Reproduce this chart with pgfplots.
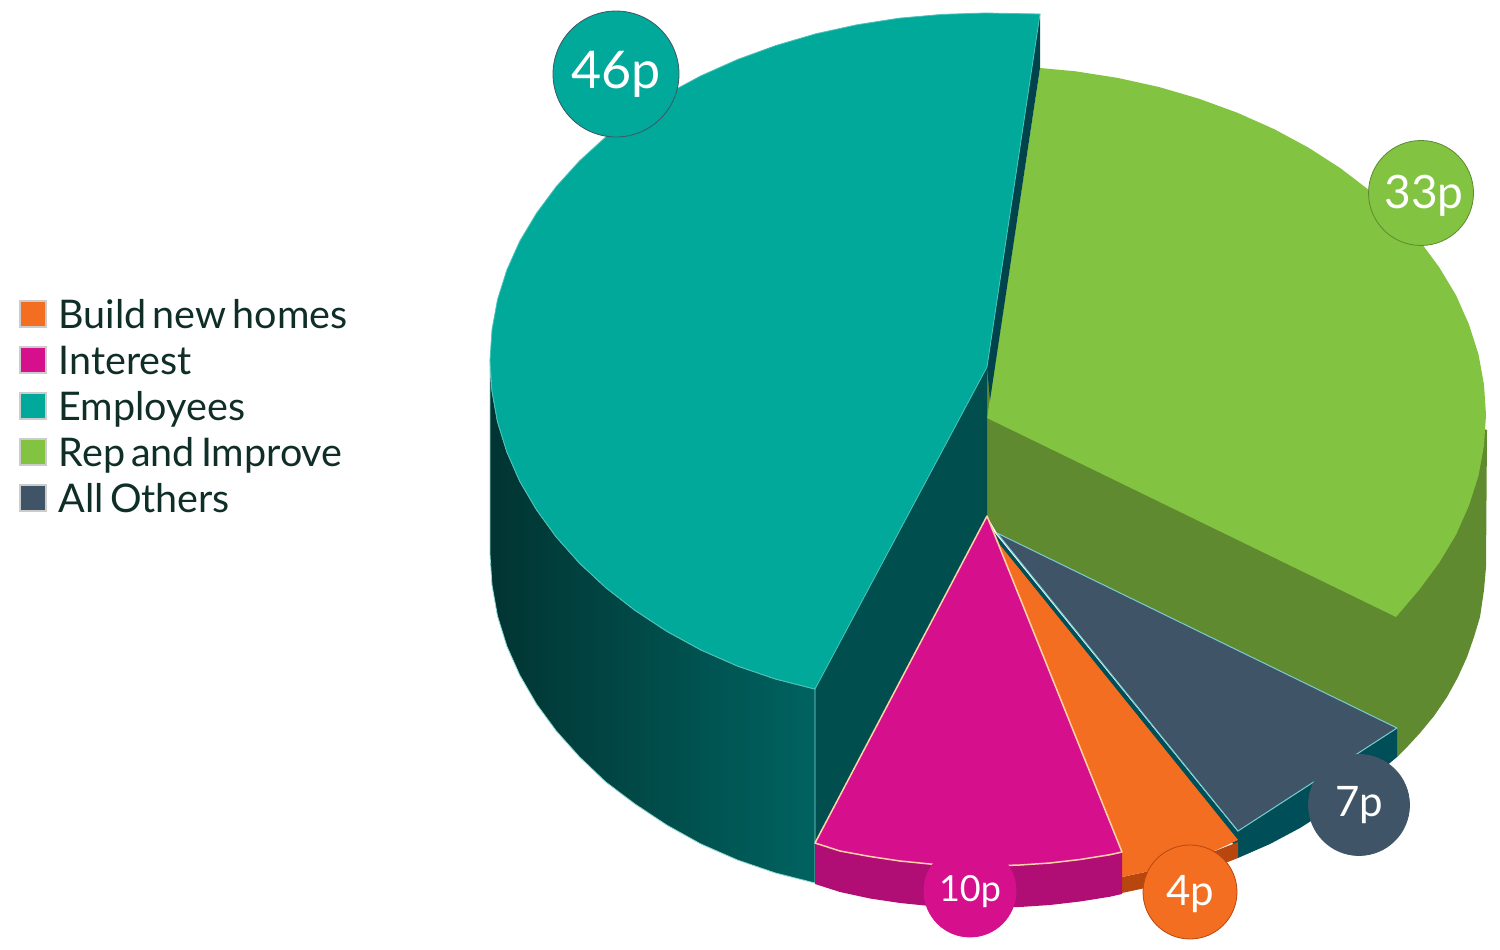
\documentclass[border=0pt]{standalone}
\usepackage{pgfplots}
\pgfplotsset{compat=1.18}
\usepackage{fontspec}
\setmainfont{Lato}[WordSpace=0.6]
\definecolor{cTeal}{HTML}{00A99A}
\definecolor{cTealIn}{HTML}{004F4E}
\definecolor{cTealL}{HTML}{013432}
\definecolor{cTealR}{HTML}{006360}
\definecolor{cGreen}{HTML}{82C341}
\definecolor{cGreenD}{HTML}{5F8A30}
\definecolor{cNavy}{HTML}{3F5567}
\definecolor{cNavyD}{HTML}{004F58}
\definecolor{cMag}{HTML}{D6108C}
\definecolor{cMagD}{HTML}{B00E75}
\definecolor{cOr}{HTML}{F36E21}
\definecolor{cOrD}{HTML}{B8470F}
\definecolor{cText}{HTML}{0F2E28}
\pgfplotsset{
  poly/.style={mark=none,forget plot,line join=round},
  badge/.style n args={3}{only marks,forget plot,mark=*,mark size=#1pt,
    mark options={fill=#2,draw=#3,line width=0.8pt},
    point meta=explicit symbolic,nodes near coords,
    every node near coord/.style={anchor=center,text=white}},
}
\begin{document}
\begin{tikzpicture}
\useasboundingbox (0,0) rectangle (1500pt,950pt);
\begin{axis}[
  at={(0,0)},anchor=south west,
  scale only axis,width=1500pt,height=950pt,
  xmin=0,xmax=1500,ymin=0,ymax=950,y dir=reverse,
  hide axis,clip=false,
  legend style={at={(axis cs:19,300)},anchor=north west,draw=none,fill=none,
    font=\fontsize{39.5}{40}\selectfont\color{cText},cells={anchor=west},
    row sep=8pt,column sep=12pt,inner sep=0pt,
    nodes={inner sep=0pt,text height=28pt,text depth=10pt}},
  legend image code/.code={\draw[#1] (0pt,-8pt) rectangle (26pt,18pt);},
]
% green wall and top
\addplot[poly,fill=cGreenD,draw=none] coordinates {(987,367) (987,516) (997,533) (1397,728) (1397,757) (1408,746) (1420,733) (1434,716) (1447,697) (1458,677) (1467,657) (1474,637) (1480,617) (1484,590) (1486,567) (1487,430) (1400,400)} --cycle;
\addplot[poly,fill=cGreen,draw=none] coordinates {(987,418) (1040,68) (1075.5,71.3) (1117.7,77.9) (1159,87) (1199.2,98.8) (1237.5,112.8) (1274.3,129.2) (1308.6,147.7) (1340.4,168.2) (1369.7,190.6) (1396,214.8) (1419.4,240.5) (1439.3,267.4) (1456.2,295.6) (1469,324.6) (1478.5,354.4) (1484,384.6) (1486,415) (1484,445.4) (1478.5,475.6) (1469,505.4) (1456.2,534.4) (1439.3,562.6) (1419.4,589.5) (1396,617)} --cycle;
% dark sliver behind the teal piece
\addplot[poly,fill=cNavyD!85!black,draw=none] coordinates {(1040,14) (1040,68) (990,400) (987,367)} --cycle;
% teal wall, outer side, top
\addplot[poly,fill=cTealIn,draw=none] coordinates {(987,367) (815,689) (815,842) (987,516)} --cycle;
\addplot[poly,left color=cTealL,right color=cTealR,draw=cTeal!45!white,line width=0.8pt] coordinates {(490,360) (492,390.9) (497.5,421.6) (506.8,451.7) (519.7,481.1) (536.5,509.7) (556.3,537) (579.6,563.2) (605.8,587.6) (635,610.3) (666.7,631.2) (700.9,649.9) (737.5,666) (775.6,679) (815,689) (815,883) (775.6,873) (737.5,860) (700.9,844) (666.7,825) (635,804) (605.8,782) (579.6,757) (556.3,731) (536.5,704) (519.7,675) (506.8,646) (497.5,616) (492,585) (490,554)} --cycle;
\addplot[poly,fill=cTeal,draw=cTeal!70!white,line width=0.8pt] coordinates {(1040,14) (985,13) (941.9,14.4) (898.9,18.2) (856.8,24.8) (815.7,33.8) (775.6,45.6) (737.5,59.5) (700.9,75.8) (666.7,94.2) (635,114.7) (605.8,136.9) (579.6,160.8) (556.3,186.5) (536.5,213.2) (519.7,241.3) (506.8,270.1) (497.5,299.6) (492,329.8) (490,360) (492,390.9) (497.5,421.6) (506.8,451.7) (519.7,481.1) (536.5,509.7) (556.3,537) (579.6,563.2) (605.8,587.6) (635,610.3) (666.7,631.2) (700.9,649.9) (737.5,666) (775.6,679) (815,689) (987,367)} --cycle;
% navy piece
\addplot[poly,fill=cNavyD,draw=none] coordinates {(1238,831) (1397,728) (1397,757) (1360,788) (1330,809) (1300,828) (1270,844) (1238,858)} --cycle;
\addplot[poly,fill=cNavyD,draw=none] coordinates {(994,532) (1238,832) (1238,850) (1000,548)} --cycle;
\addplot[poly,fill=cNavy,draw=cNavy!50!cyan!60!white,line width=1pt] coordinates {(997,533) (1397,728) (1238,831)} --cycle;
% orange piece
\addplot[poly,fill=cOrD,draw=none] coordinates {(1122,877) (1150,871) (1180,863) (1210,853) (1238,842) (1238,858) (1210,869) (1180,879) (1150,887) (1122,893)} --cycle;
\addplot[poly,fill=cOr,draw=none] coordinates {(987,516) (1000,545) (1238,840) (1210,853) (1180,863) (1150,871) (1122,877) (1122,852)} --cycle;
% magenta piece
\addplot[poly,fill=cMagD,draw=none] coordinates {(815,843) (840,851) (870,856.5) (900,861) (930,864) (960,865.6) (990,866) (1020,865) (1050,863) (1080,859.5) (1110,854.7) (1122,852) (1122,894) (1110,896.7) (1080,901.5) (1050,905) (1020,907) (990,908) (960,907.6) (930,906) (900,903) (870,898.5) (840,892) (815,884)} --cycle;
\addplot[poly,fill=cMag,draw=orange!35!white,line width=1.5pt] coordinates {(987,516) (815,843) (840,851) (870,856.5) (900,861) (930,864) (960,865.6) (990,866) (1020,865) (1050,863) (1080,859.5) (1110,854.7) (1122,852)} --cycle;
% value badges
\addplot[badge={63}{cTeal}{cNavy},nodes near coords style={font=\fontsize{52}{52}\selectfont}] coordinates {(616,74) [46p]};
\addplot[badge={52.5}{cGreen}{cGreenD},nodes near coords style={font=\fontsize{46}{46}\selectfont,xshift=3pt,yshift=-3pt}] coordinates {(1421,193) [33p]};
\addplot[badge={50.5}{cNavy}{cNavy},nodes near coords style={font=\fontsize{42}{42}\selectfont}] coordinates {(1359,805) [7p]};
\addplot[badge={47}{cOr}{cOrD},nodes near coords style={font=\fontsize{42}{42}\selectfont,yshift=-2pt}] coordinates {(1190,892) [4p]};
\addplot[badge={46}{cMag}{cMag},nodes near coords style={font=\fontsize{36}{36}\selectfont,yshift=-1pt}] coordinates {(970,891) [10p]};
% legend
\addlegendimage{fill=cOr,draw=black!20,line width=1.5pt}
\addlegendentry{Build new homes}
\addlegendimage{fill=cMag,draw=black!20,line width=1.5pt}
\addlegendentry{Interest}
\addlegendimage{fill=cTeal,draw=black!20,line width=1.5pt}
\addlegendentry{Employees}
\addlegendimage{fill=cGreen,draw=black!20,line width=1.5pt}
\addlegendentry{Rep and Improve}
\addlegendimage{fill=cNavy,draw=black!20,line width=1.5pt}
\addlegendentry{All Others}
\end{axis}
\end{tikzpicture}
\end{document}
